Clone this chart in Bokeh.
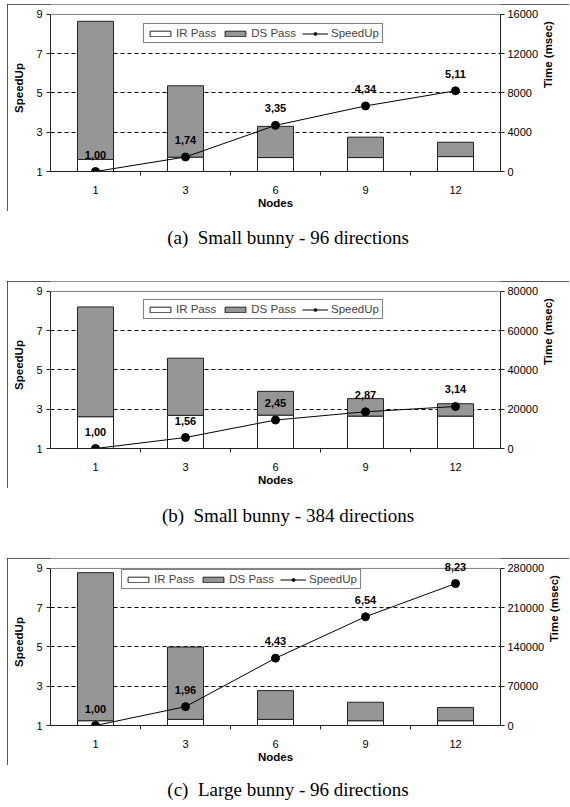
from bokeh.plotting import figure
from bokeh.models import (Range1d, LinearAxis, FixedTicker, Legend, LegendItem, Div, Span,
                          ColumnDataSource, LabelSet, BasicTickFormatter, Spacer)
from bokeh.layouts import column, row
from bokeh.embed import file_html
from bokeh.resources import INLINE
from bokeh.core.properties import value
import math

# ---------------- data ----------------
nodes = ["1", "3", "6", "9", "12"]
speedup_ticks = [1, 3, 5, 7, 9]

# (a) Small bunny - 96 directions
speedup_a = [1.00, 1.74, 3.35, 4.34, 5.11]
ir_a = [1230, 1460, 1420, 1420, 1520]
ds_a = [14070, 7270, 3180, 2080, 1460]
time_ticks_a = [0, 4000, 8000, 12000, 16000]

# (b) Small bunny - 384 directions
speedup_b = [1.00, 1.56, 2.45, 2.87, 3.14]
ir_b = [16200, 16900, 17000, 16500, 16500]
ds_b = [55900, 29100, 12100, 8900, 6300]
time_ticks_b = [0, 20000, 40000, 60000, 80000]

# (c) Large bunny - 96 directions
speedup_c = [1.00, 1.96, 4.43, 6.54, 8.23]
ir_c = [8500, 10900, 10900, 8500, 8500]
ds_c = [263900, 129000, 51300, 33000, 23700]
time_ticks_c = [0, 70000, 140000, 210000, 280000]

captions = ["(a)\u00a0 Small bunny - 96 directions",
            "(b)\u00a0 Small bunny - 384 directions",
            "(c)\u00a0 Large bunny - 96 directions"]

SANS = "Liberation Sans"
W, H = 562, 207
BL, BR, BT, BB = 43, 65, 0, 39
TOPPAD = 10                      # px of frame above the "9" line
FH = H - BT - BB                 # total frame height
PH = FH - TOPPAD                 # height of the 1..9 span


def make_panel(speedup, ir, ds, tticks, leg_x, leg_top):
    n = len(nodes)
    xs = [i + 0.5 for i in range(n)]
    total = [a + b for a, b in zip(ir, ds)]
    y0, y1 = speedup_ticks[0], speedup_ticks[-1]
    ext = TOPPAD / PH
    p = figure(width=W, height=H, x_range=Range1d(0, n),
               y_range=Range1d(y0, y1 + (y1 - y0) * ext),
               output_backend="svg", toolbar_location=None,
               min_border_left=BL, min_border_right=BR, min_border_top=BT, min_border_bottom=BB)
    p.styles = {"outline": "1px solid #222", "outline-offset": "-1px"}
    p.outline_line_color = None
    p.background_fill_color = "white"
    p.border_fill_color = "white"

    t0, t1 = tticks[0], tticks[-1]
    p.extra_y_ranges = {"time": Range1d(t0, t1 + (t1 - t0) * ext)}

    # x axis
    xa = p.xaxis[0]
    xa.ticker = FixedTicker(ticks=xs, minor_ticks=list(range(1, n)))
    xa.major_label_overrides = {x: lab for x, lab in zip(xs, nodes)}
    xa.major_tick_out = 0
    xa.major_tick_in = 0
    xa.minor_tick_out = 4
    xa.minor_tick_in = 0
    xa.major_label_standoff = 10
    xa.axis_label = "Nodes"
    xa.axis_label_standoff = 0
    # left axis
    ya = p.yaxis[0]
    ya.ticker = FixedTicker(ticks=speedup_ticks)
    ya.bounds = (y0, y1)
    ya.major_tick_out = 4
    ya.major_tick_in = 0
    ya.major_label_standoff = 4
    ya.axis_label = "SpeedUp"
    ya.axis_label_standoff = 8
    # right axis
    ra = LinearAxis(y_range_name="time", ticker=FixedTicker(ticks=tticks),
                    formatter=BasicTickFormatter(use_scientific=False),
                    axis_label="Time (msec)", bounds=(t0, t1))
    ra.major_tick_out = 4
    ra.major_tick_in = 0
    ra.major_label_standoff = 3
    ra.axis_label_standoff = 7
    ra.axis_label_orientation = math.pi / 2
    p.add_layout(ra, "right")

    for ax in (xa, ya, ra):
        ax.axis_line_color = "#222"
        ax.major_tick_line_color = "#222"
        ax.minor_tick_line_color = "#222"
        ax.major_label_text_font = SANS
        ax.major_label_text_font_size = "11px"
        ax.major_label_text_color = "black"
        ax.axis_label_text_font = SANS
        ax.axis_label_text_font_size = "11.5px"
        ax.axis_label_text_font_style = "bold"
        ax.axis_label_text_color = "black"

    p.xgrid.visible = False
    p.ygrid.ticker = FixedTicker(ticks=speedup_ticks[1:-1])
    p.ygrid.grid_line_color = "black"
    p.ygrid.grid_line_dash = "4 3"
    p.ygrid.grid_line_width = 1
    p.add_layout(Span(location=y1, dimension="width", line_color="#808080", line_width=1))

    r_ir = p.vbar(x=xs, bottom=0, top=ir, width=0.4, fill_color="white",
                  line_color="#222", line_width=1, y_range_name="time")
    r_ds = p.vbar(x=xs, bottom=ir, top=total, width=0.4, fill_color="#969696",
                  line_color="#222", line_width=1, y_range_name="time")
    r_line = p.line(xs, speedup, line_color="black", line_width=1)
    r_pts = p.scatter(xs, speedup, size=8, fill_color="black", line_color="black")

    labels = [f"{v:.2f}".replace(".", ",") for v in speedup]
    src = ColumnDataSource(dict(x=xs, y=speedup, lab=labels))
    p.add_layout(LabelSet(x="x", y="y", text="lab", source=src, y_offset=17,
                          text_align="center", text_baseline="middle",
                          text_font=value(SANS), text_font_style="bold",
                          text_font_size="11px", text_color="black"))

    LH = 20
    legend = Legend(items=[LegendItem(label="IR Pass", renderers=[r_ir]),
                           LegendItem(label="DS Pass", renderers=[r_ds]),
                           LegendItem(label="SpeedUp", renderers=[r_line, r_pts])],
                    orientation="horizontal",
                    location=(leg_x, FH - TOPPAD - leg_top - LH),
                    border_line_color="black", border_line_width=1,
                    background_fill_color="white", background_fill_alpha=1.0,
                    padding=3, spacing=6, margin=0, label_standoff=3,
                    glyph_width=26, glyph_height=7, label_height=12,
                    label_text_font=SANS, label_text_font_size="11.5px")
    p.add_layout(legend)
    return p


def caption(txt, h, pad):
    return Div(text=f'<div style="font-family: \'Liberation Serif\'; font-size: 19px; '
                    f'line-height: 22px; text-align: center; white-space: pre; width: {W}px; '
                    f'margin: 0; padding: {pad}px 0 0 0;">{txt}</div>',
               width=W, height=h, styles={"margin": "0", "padding": "0"})


pa = make_panel(speedup_a, ir_a, ds_a, time_ticks_a, 93, 10)
pb = make_panel(speedup_b, ir_b, ds_b, time_ticks_b, 93, 9)
pc = make_panel(speedup_c, ir_c, ds_c, time_ticks_c, 71, 2)

stack = column(Spacer(width=W, height=4),
               pa, caption(captions[0], 70, 16),
               pb, caption(captions[1], 70, 17),
               pc, caption(captions[2], 40, 14), spacing=0)
layout = row(Spacer(width=7, height=10), stack, spacing=0)

open("out.html", "w").write(file_html(layout, INLINE))
